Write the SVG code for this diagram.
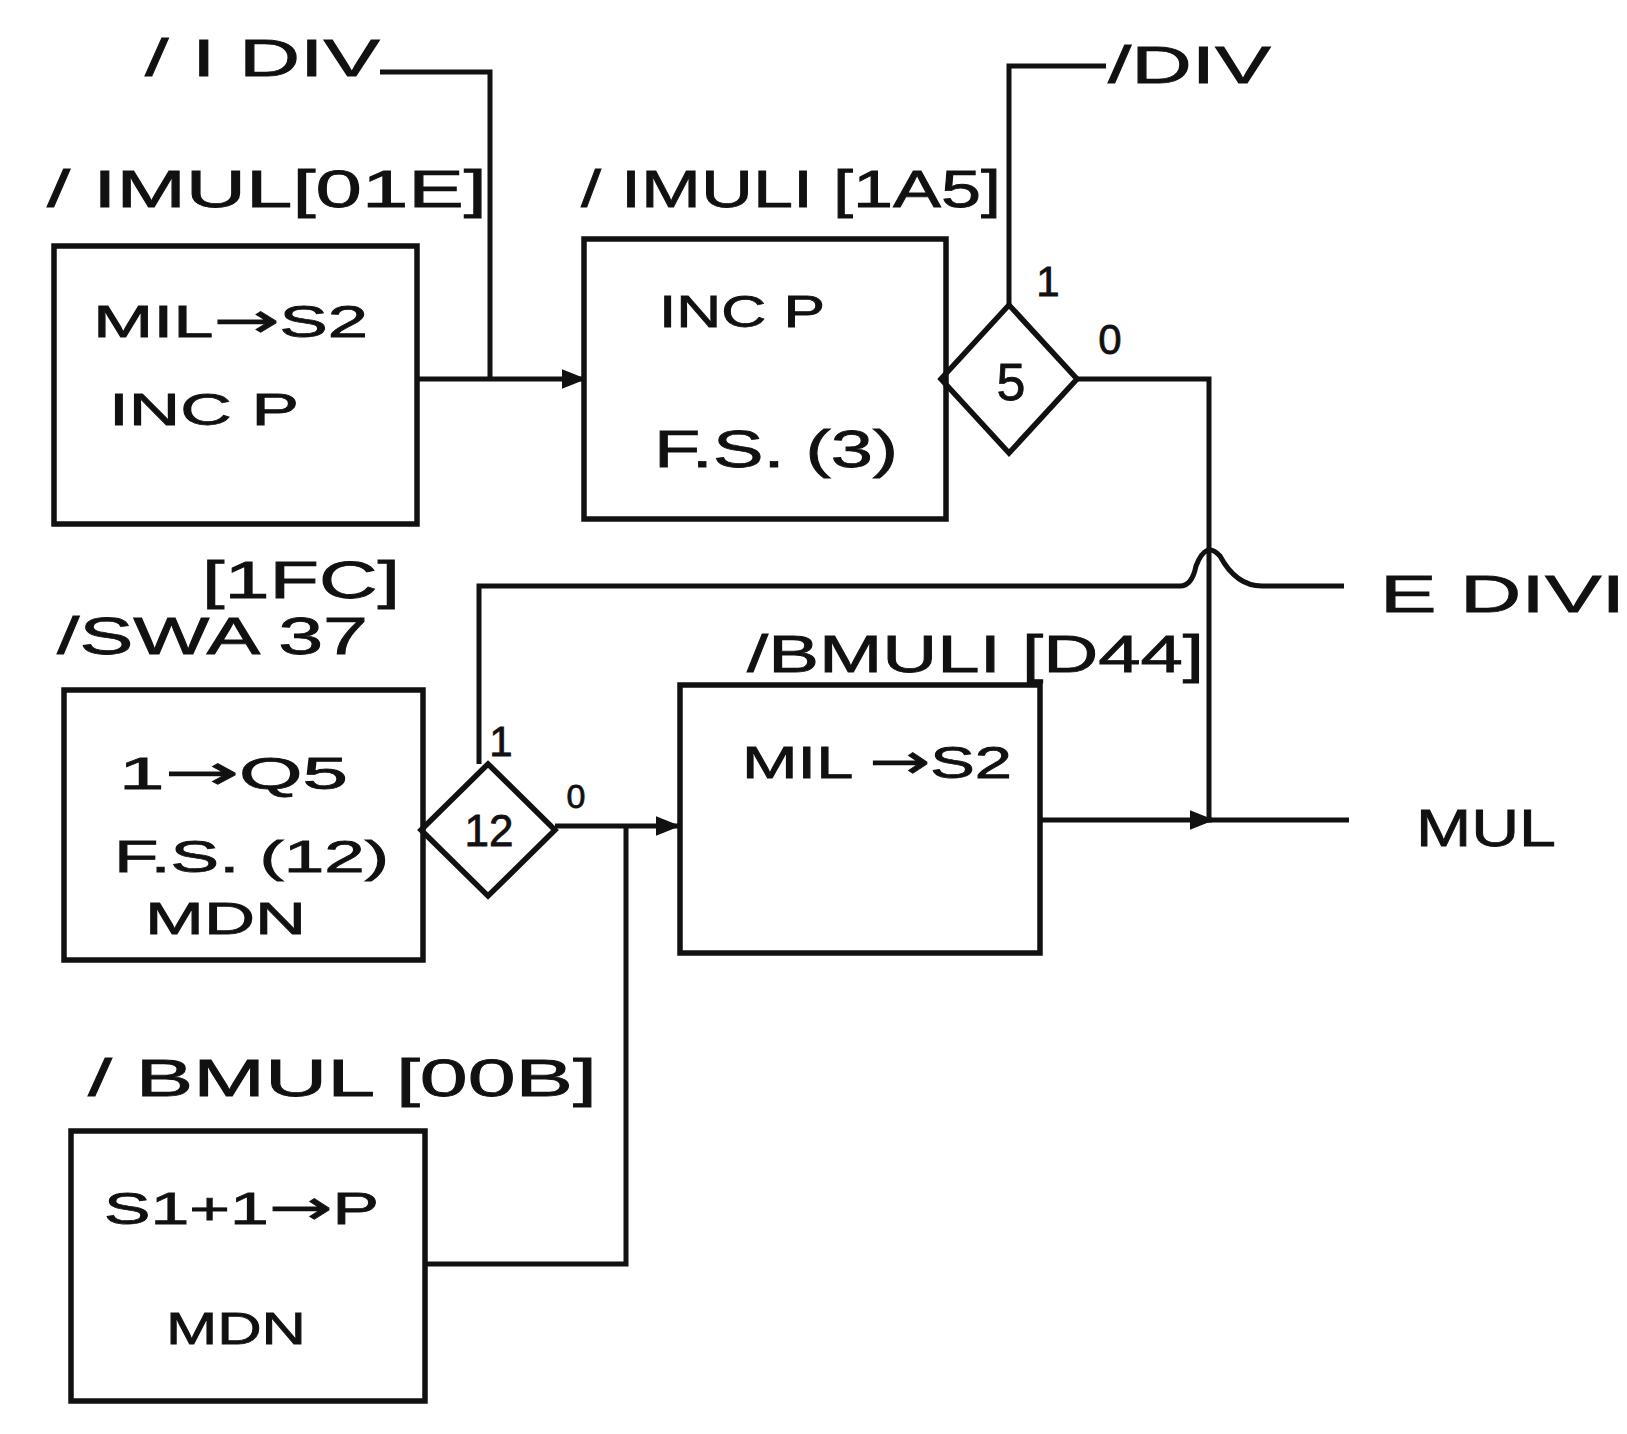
<svg xmlns="http://www.w3.org/2000/svg" width="1627" height="1434" viewBox="0 0 1627 1434">
<defs>
<style>
.box{fill:none;stroke:#111;stroke-width:5.5;stroke-linejoin:miter}
.ln{fill:none;stroke:#111;stroke-width:5;stroke-linejoin:miter}
.t{font-family:"Liberation Sans",Arial,sans-serif;fill:#111;stroke:#111;stroke-width:0.8}
.h{font-size:52px}
.b{font-size:44px}
.s{font-size:42px}
.a{font-family:"DejaVu Sans",sans-serif;font-size:48px}
</style>
<marker id="arr" viewBox="0 0 10 10" refX="9" refY="5" markerWidth="5" markerHeight="5" orient="auto" markerUnits="strokeWidth">
<path d="M0,1 L10,5 L0,9 Z" fill="#111"/>
</marker>
</defs>
<rect width="1627" height="1434" fill="#fff"/>

<g id="connectors">
<path class="ln" d="M380,72 H490 V379"/>
<path class="ln" d="M417,379 H584" marker-end="url(#arr)"/>
<path class="ln" d="M1009,305 V66 H1106"/>
<path class="ln" d="M1077,379 H1209 V820"/>
<path class="ln" d="M479,764 V586 H1180 Q1192,586 1196,566 Q1206,540 1220,556 Q1236,586 1262,586 H1344"/>
<path class="ln" d="M555,826 H678" marker-end="url(#arr)"/>
<path class="ln" d="M425,1264 H626 V826"/>
<path class="ln" d="M1040,820 H1349"/>
<path class="ln" d="M1190,820 H1212" marker-end="url(#arr)"/>
</g>

<g id="label-idiv"><text class="t h" x="145" y="76" textLength="235" lengthAdjust="spacingAndGlyphs">/ I DIV</text></g>
<g id="label-div"><text class="t h" x="1108" y="83" textLength="163" lengthAdjust="spacingAndGlyphs">/DIV</text></g>

<g id="node-imul">
<text class="t h" x="47" y="207" textLength="440" lengthAdjust="spacingAndGlyphs">/ IMUL[01E]</text>
<rect class="box" x="54" y="246" width="363" height="278"/>
<text class="t b" x="93" y="337" textLength="275" lengthAdjust="spacingAndGlyphs">MIL<tspan class="a">→</tspan>S2</text>
<text class="t b" x="109" y="425" textLength="190" lengthAdjust="spacingAndGlyphs">INC  P</text>
</g>

<g id="node-imuli">
<text class="t h" x="581" y="207" textLength="420" lengthAdjust="spacingAndGlyphs">/ IMULI [1A5]</text>
<rect class="box" x="584" y="239" width="362" height="280"/>
<text class="t b" x="659" y="327" textLength="166" lengthAdjust="spacingAndGlyphs">INC P</text>
<text class="t h" x="654" y="467" textLength="244" lengthAdjust="spacingAndGlyphs">F.S. (3)</text>
</g>

<g id="node-dec5">
<polygon class="box" points="1009,305 1077,379 1009,453 941,379"/>
<text class="t h" x="1011" y="400" text-anchor="middle" font-size="56">5</text>
<text class="t s" x="1048" y="296" text-anchor="middle">1</text>
<text class="t s" x="1110" y="354" text-anchor="middle">0</text>
</g>

<g id="label-edivi"><text class="t h" x="1380" y="612" textLength="245" lengthAdjust="spacingAndGlyphs">E DIVI</text></g>

<g id="node-swa37">
<text class="t h" x="202" y="598" textLength="198" lengthAdjust="spacingAndGlyphs">[1FC]</text>
<text class="t h" x="57" y="654" textLength="311" lengthAdjust="spacingAndGlyphs">/SWA 37</text>
<rect class="box" x="64" y="690" width="359" height="270"/>
<text class="t b" x="119" y="789" textLength="229" lengthAdjust="spacingAndGlyphs">1<tspan class="a">→</tspan>Q5</text>
<text class="t b" x="114" y="872" textLength="275" lengthAdjust="spacingAndGlyphs">F.S. (12)</text>
<text class="t b" x="145" y="934" textLength="161" lengthAdjust="spacingAndGlyphs">MDN</text>
</g>

<g id="node-dec12">
<polygon class="box" points="488,764 555,830 488,896 421,830"/>
<text class="t b" x="489" y="846" text-anchor="middle">12</text>
<text class="t s" x="501" y="756" text-anchor="middle">1</text>
<text class="t" x="576" y="808" text-anchor="middle" font-size="34">0</text>
</g>

<g id="node-bmuli">
<text class="t h" x="747" y="672" textLength="457" lengthAdjust="spacingAndGlyphs">/BMULI [D44]</text>
<rect class="box" x="680" y="685" width="360" height="268"/>
<text class="t b" x="742" y="778" textLength="270" lengthAdjust="spacingAndGlyphs">MIL <tspan class="a">→</tspan>S2</text>
</g>

<g id="label-mul"><text class="t h" x="1416" y="846" textLength="140" lengthAdjust="spacingAndGlyphs">MUL</text></g>

<g id="node-bmul">
<text class="t h" x="88" y="1096" textLength="509" lengthAdjust="spacingAndGlyphs">/ BMUL [00B]</text>
<rect class="box" x="71" y="1131" width="354" height="270"/>
<text class="t b" x="104" y="1224" textLength="275" lengthAdjust="spacingAndGlyphs">S1+1<tspan class="a">→</tspan>P</text>
<text class="t b" x="166" y="1344" textLength="140" lengthAdjust="spacingAndGlyphs">MDN</text>
</g>
</svg>
